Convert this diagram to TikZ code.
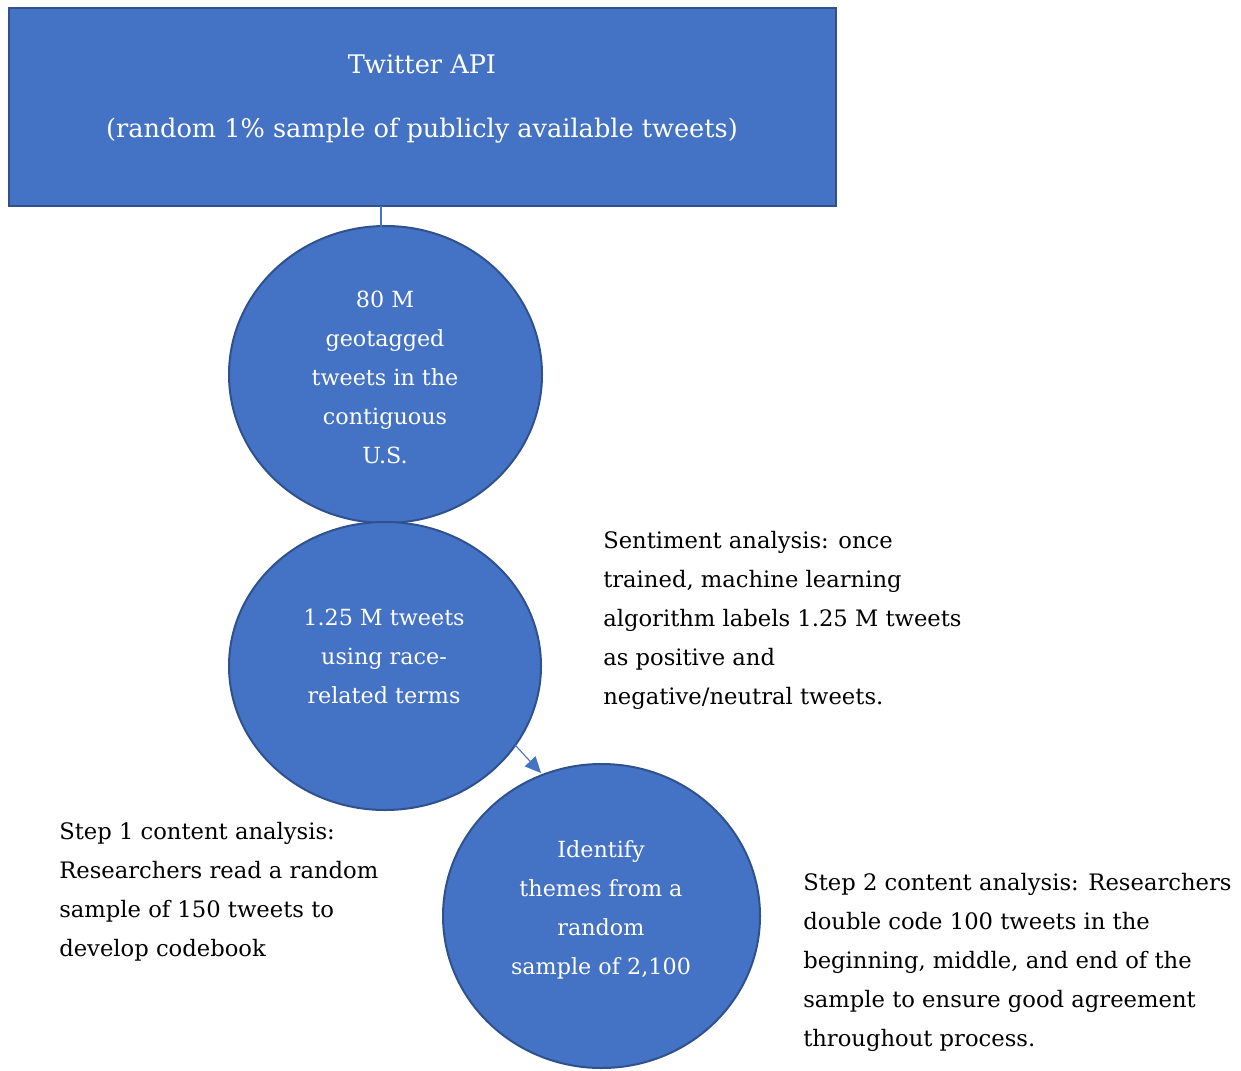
\documentclass[tikz,border=0pt]{standalone}
\usepackage{fontspec}
\setmainfont{DejaVu Serif}
\usetikzlibrary{arrows.meta}
\definecolor{blfill}{HTML}{4472C4}
\definecolor{bldraw}{HTML}{2F528F}
\tikzset{
  shapebox/.style={draw=bldraw, fill=blfill, line width=1.5pt},
  wtext/.style={text=white, align=center, inner sep=0pt, font=\fontsize{16.7}{29.25}\selectfont},
  btext/.style={text=black, align=left, inner sep=0pt, anchor=west, font=\fontsize{17}{29.25}\selectfont},
  conn/.style={draw=blfill, line width=0.8pt},
}
\begin{document}
\begin{tikzpicture}[x=0.75pt,y=-0.75pt]
\useasboundingbox (0,0) rectangle (1241,1070);
% shapes
\draw[shapebox] (9,8) rectangle (836,206);
\coordinate (rectbot) at (381,206);
\draw[shapebox] (385.5,374.5) ellipse [x radius=156.5, y radius=148.5];
\coordinate (c1top) at (381,226.5);
\draw[shapebox] (385,666) ellipse [x radius=156, y radius=144];
\coordinate (c2edge) at (515,745);
\draw[shapebox] (601.5,916) ellipse [x radius=158.5, y radius=152];
\coordinate (c3edge) at (541,773);
% connectors
\draw[conn] (rectbot) -- (c1top);
\draw[conn, -{Triangle[length=12pt,width=11pt]}] (c2edge) -- (c3edge);
% texts
\node[wtext, font=\fontsize{19.2}{29.25}\selectfont] (api) at (422,98.5) {Twitter API\\[18.75pt](random 1\% sample of publicly available tweets)};
\node[wtext] (c1) at (385,377) {80 M\\geotagged\\tweets in the\\contiguous\\U.S.};
\node[wtext] (c2) at (384,656) {1.25 M tweets\\using race-\\related terms};
\node[wtext] (c3) at (601,910) {Identify\\themes from a\\random\\sample of 2,100};
\node[btext] (sent) at (603,620.5) {Sentiment analysis: once\\trained, machine learning\\algorithm labels 1.25 M tweets\\as positive and\\negative/neutral tweets.};
\node[btext] (s1) at (59,891.5) {Step 1 content analysis:\\Researchers read a random\\sample of 150 tweets to\\develop codebook};
\node[btext] (s2) at (803,962.5) {Step 2 content analysis: Researchers\\double code 100 tweets in the\\beginning, middle, and end of the\\sample to ensure good agreement\\throughout process.};
\end{tikzpicture}
\end{document}
